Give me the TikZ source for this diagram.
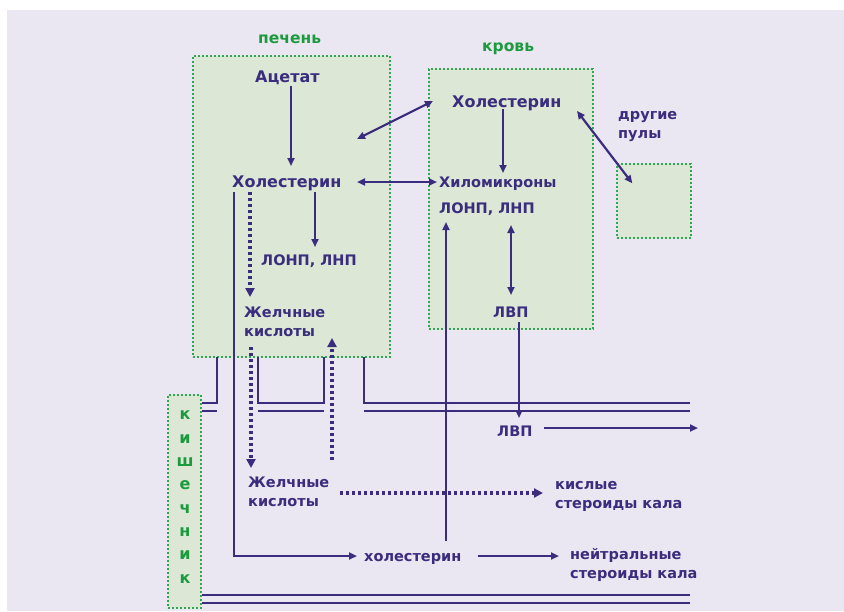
\documentclass[tikz,border=0pt]{standalone}
\usepackage{fontspec}
\setmainfont{DejaVu Sans}
\usetikzlibrary{arrows.meta,calc}
\definecolor{ink}{HTML}{3A2D7D}
\definecolor{grn}{HTML}{1C9A3E}
\definecolor{boxfill}{HTML}{DCE7D6}
\definecolor{boxline}{HTML}{2EA84E}
\definecolor{bg}{HTML}{EAE7F2}
\begin{document}
\begin{tikzpicture}[x=1pt,y=-1pt,
  txt/.style={text=ink, inner sep=0pt, font=\bfseries\fontsize{14.5}{19}\selectfont, anchor=base west, align=left},
  bigtxt/.style={txt, font=\bfseries\fontsize{16}{19}\selectfont},
  gtxt/.style={text=grn, inner sep=0pt, anchor=base west, font=\bfseries\fontsize{15.5}{18}\selectfont},
  region/.style={draw=boxline, fill=boxfill, line width=1.3pt, dash pattern=on 2pt off 2pt, inner sep=0pt},
  ln/.style={draw=ink, line width=2.2pt},
  wall/.style={draw=ink, line width=2.6pt},
  arr/.style={ln, -{Triangle[length=8pt,width=7pt]}},
  darr/.style={ln, {Triangle[length=8pt,width=7pt]}-{Triangle[length=8pt,width=7pt]}},
  dotln/.style={draw=ink, line width=3.2pt, dash pattern=on 3pt off 3pt},
  dotarr/.style={dotln, -{Triangle[length=9pt,width=9pt]}}
]
\useasboundingbox (0,0) rectangle (844,611);
\fill[white] (0,0) rectangle (844,611);
\fill[bg] (7,10) rectangle (844,611);

% regions
\node[region, minimum width=197pt, minimum height=301pt] (liver) at (291.5,206.5) {};
\node[region, minimum width=164pt, minimum height=260pt] (blood) at (511,199) {};
\node[region, minimum width=74pt, minimum height=74pt] (pool) at (654,201) {};
\node[region, minimum width=33pt, minimum height=213pt] (gut) at (184.5,501.5) {};

% region labels
\node[gtxt] (lblliver) at (258,43) {печень};
\node[gtxt] (lblblood) at (482,51) {кровь};
\node[text=grn, font=\bfseries\fontsize{16}{23.3}\selectfont, align=center, inner sep=0pt, anchor=base] (lblgut) at (185,583) {к\\и\\ш\\е\\ч\\н\\и\\к};

% texts
\node[bigtxt] (acet) at (255,82) {Ацетат};
\node[bigtxt] (cholL) at (232,187) {Холестерин};
\node[txt] (lonpL) at (261,265) {ЛОНП, ЛНП};
\node[txt] (bileL) at (244,336) {Желчные\\кислоты};
\node[bigtxt] (cholB) at (452,107) {Холестерин};
\node[txt] (chylo) at (439,187) {Хиломикроны};
\node[txt] (lonpB) at (439,213) {ЛОНП, ЛНП};
\node[txt] (hdlB) at (493,317) {ЛВП};
\node[txt] (hdlI) at (497,436) {ЛВП};
\node[txt] (pools) at (618,138) {другие\\пулы};
\node[txt] (bileI) at (248,506) {Желчные\\кислоты};
\node[txt] (cholI) at (364,561) {холестерин};
\node[txt] (acid) at (555,508) {кислые\\стероиды кала};
\node[txt] (neut) at (570,578) {нейтральные\\стероиды кала};

\coordinate (lvin) at (357,139);
\coordinate (hdlout) at (698,428);

% intestinal walls
\draw[wall] (217,357) -- (217,403) -- (202,403);
\draw[wall] (202,411) -- (217,411);
\draw[wall] (258,357) -- (258,403) -- (324,403) -- (324,357);
\draw[wall] (258,411) -- (324,411);
\draw[wall] (364,357) -- (364,403) -- (690,403);
\draw[wall] (364,411) -- (690,411);
\draw[wall] (202,595) -- (690,595);
\draw[wall] (202,603) -- (690,603);

% connectors
\draw[arr] ($(acet.base west)+(36,4)$) -- ($(cholL.base west)+(59,-21)$);
\draw[darr] ($(cholB.base west)+(-19,-6)$) -- (lvin);
\draw[darr] ($(cholL.base west)+(125,-5)$) -- ($(chylo.base west)+(-2,-5)$);
\draw[arr] ($(cholB.base west)+(51,2)$) -- ($(chylo.base west)+(64,-14)$);
\draw[darr] ($(cholB.base west)+(125,4)$) -- ($(pool.north west)+(16,20)$);
\draw[arr] ($(cholI.base west)+(82,-20)$) -- ($(lonpB.base west)+(7,9)$);
\draw[darr] ($(lonpB.base west)+(72,12)$) -- ($(hdlB.base west)+(18,-22)$);
\draw[arr] ($(hdlB.base west)+(26,5)$) -- ($(hdlI.base west)+(22,-18)$);
\draw[arr] ($(hdlI.base west)+(47,-8)$) -- (hdlout);
\draw[arr] ($(cholL.base west)+(83,5)$) -- ($(lonpL.base west)+(54,-18)$);
\draw[dotarr] ($(cholL.base west)+(18,5)$) -- ($(bileL.base west)+(6,-39)$);
\draw[arr] ($(cholL.base west)+(2,5)$) |- ($(cholI.base west)+(-7,-5)$);
\draw[dotarr] ($(bileL.base west)+(7,11)$) -- ($(bileI.base west)+(3,-38)$);
\draw[dotarr] ($(bileI.base west)+(84,-46)$) -- ($(bileL.base west)+(88,2)$);
\draw[dotarr] ($(bileI.base west)+(92,-13)$) -- ($(acid.base west)+(-12,-15)$);
\draw[arr] ($(cholI.base west)+(114,-5)$) -- ($(neut.base west)+(-11,-22)$);
\end{tikzpicture}
\end{document}
